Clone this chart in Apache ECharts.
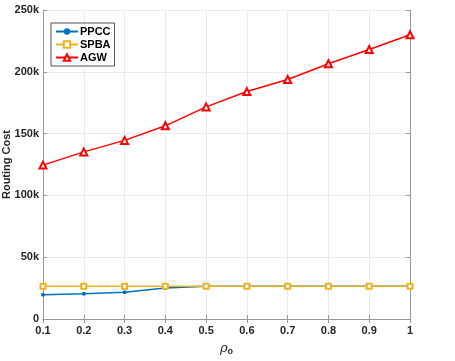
<!DOCTYPE html>
<html>
<head>
<meta charset="utf-8">
<script src="https://cdn.jsdelivr.net/npm/echarts@6/dist/echarts.min.js"></script>
<style>
  html, body { margin: 0; padding: 0; background: #fff; }
  #chart { width: 455px; height: 361px; }
</style>
</head>
<body>
<div id="chart"></div>
<script>
var rhoLabels = ["0.1", "0.2", "0.3", "0.4", "0.5", "0.6", "0.7", "0.8", "0.9", "1"];
var ppcc = [19700, 20500, 21600, 25000, 26400, 26500, 26400, 26400, 26400, 26400];
var spba = [26400, 26400, 26400, 26400, 26400, 26400, 26400, 26400, 26400, 26400];
var agw = [124500, 135200, 144500, 156300, 171600, 184000, 193800, 206500, 218000, 230000];

(function () {
    var myChart = echarts.init(document.getElementById("chart"));
    var font = "Liberation Sans";
    var axisColor = "#262626";
    var option = {
        animation: false,
        grid: { left: 43, right: 45, top: 10, bottom: 42, outerBoundsMode: "none", containLabel: false },
        legend: {
            orient: "vertical",
            left: 51,
            top: 23,
            padding: [3, 4, 3, 4],
            itemGap: 2,
            itemWidth: 22,
            itemHeight: 8,
            borderColor: "#262626",
            borderWidth: 0.8,
            backgroundColor: "#fff",
            textStyle: { fontFamily: font, fontWeight: "bold", fontSize: 11, color: "#000", padding: [0, 0, 0, -3] },
            data: ["PPCC", "SPBA", "AGW"]
        },
        xAxis: [
            {
                type: "category",
                data: rhoLabels,
                boundaryGap: false,
                name: "{a|\u03c1}{b|o}",
                nameLocation: "middle",
                nameGap: 22,
                nameMoveOverlap: false,
                nameTextStyle: {
                    rich: {
                        a: { fontFamily: "DejaVu Serif", fontStyle: "italic", fontSize: 13, color: "#262626" },
                        b: { fontFamily: font, fontWeight: "bold", fontSize: 9, color: "#262626", padding: [6, 0, 0, 0] }
                    }
                },
                axisLine: { lineStyle: { color: "#999", width: 1 } },
                axisTick: { inside: true, length: 4, lineStyle: { color: "#999" } },
                axisLabel: { fontFamily: font, fontWeight: "bold", fontSize: 11, color: axisColor, margin: 6 },
                splitLine: { show: true, lineStyle: { color: "#ebebeb" } }
            },
            {
                type: "category",
                data: rhoLabels,
                boundaryGap: false,
                position: "top",
                axisLine: { lineStyle: { color: "#999", width: 1 } },
                axisTick: { inside: true, length: 4, lineStyle: { color: "#999" } },
                axisLabel: { show: false },
                splitLine: { show: false }
            }
        ],
        yAxis: [
            {
                type: "value",
                min: 0,
                max: 250000,
                interval: 50000,
                name: "Routing Cost",
                nameLocation: "middle",
                nameGap: 31,
                nameMoveOverlap: false,
                nameTextStyle: { fontFamily: font, fontWeight: "bold", fontSize: 11, color: axisColor },
                axisLine: { show: true, lineStyle: { color: "#999", width: 1 } },
                axisTick: { show: true, inside: true, length: 4, lineStyle: { color: "#999" } },
                axisLabel: {
                    fontFamily: font, fontWeight: "bold", fontSize: 11, color: axisColor, margin: 4,
                    formatter: function (v) { return v === 0 ? "0" : (v / 1000) + "k"; }
                },
                splitLine: { show: true, lineStyle: { color: "#ebebeb" } }
            },
            {
                type: "value",
                min: 0,
                max: 250000,
                interval: 50000,
                position: "right",
                axisLine: { show: true, lineStyle: { color: "#999", width: 1 } },
                axisTick: { show: true, inside: true, length: 4, lineStyle: { color: "#999" } },
                axisLabel: { show: false },
                splitLine: { show: false }
            }
        ],
        series: [
            {
                name: "PPCC",
                type: "line",
                data: ppcc,
                symbol: "circle",
                symbolSize: 4,
                color: "#0072BD",
                lineStyle: { width: 1.5 },
                z: 3
            },
            {
                name: "SPBA",
                type: "line",
                data: spba,
                symbol: "emptyRect",
                symbolSize: 5,
                color: "#EDB120",
                lineStyle: { width: 1.5 },
                itemStyle: { borderWidth: 1.2 },
                z: 4
            },
            {
                name: "AGW",
                type: "line",
                data: agw,
                symbol: "emptyTriangle",
                symbolSize: 7,
                color: "#FF0000",
                lineStyle: { width: 1.5 },
                itemStyle: { borderWidth: 1.3 },
                z: 5
            }
        ]
    };
    myChart.setOption(option);
    window.addEventListener("resize", function () {
        myChart.resize();
    });
})();
</script>
</body>
</html>
